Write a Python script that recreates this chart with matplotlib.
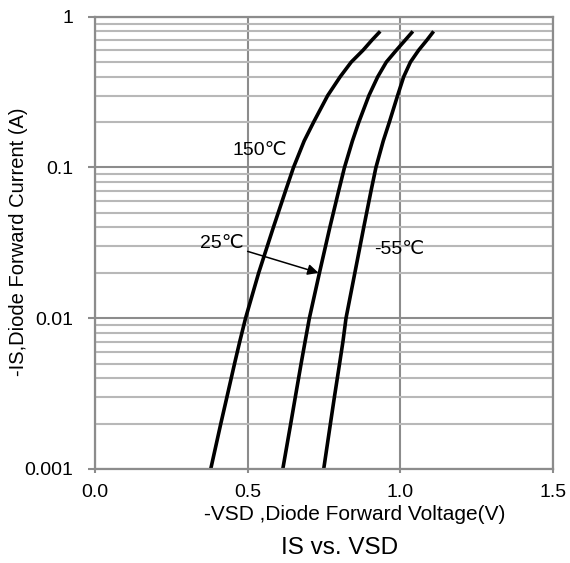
import matplotlib
matplotlib.use("Agg")
import matplotlib.pyplot as plt
from matplotlib.ticker import FixedLocator, NullFormatter

plt.rcParams['font.family'] = ['Liberation Sans', 'DejaVu Sans']

# forward current (A), read at the gridlines
current = [0.001, 0.002, 0.003, 0.005, 0.007, 0.01, 0.02, 0.04, 0.07,
           0.1, 0.15, 0.2, 0.3, 0.4, 0.5, 0.6, 0.7, 0.8]
# forward voltage (V) for each temperature
vsd_150 = [0.379, 0.412, 0.432, 0.457, 0.474, 0.493, 0.536, 0.584, 0.624,
           0.650, 0.685, 0.716, 0.762, 0.803, 0.839, 0.878, 0.907, 0.934]
vsd_25 = [0.615, 0.641, 0.656, 0.675, 0.688, 0.702, 0.735, 0.769, 0.798,
          0.817, 0.843, 0.864, 0.897, 0.926, 0.954, 0.987, 1.016, 1.041]
vsd_m55 = [0.749, 0.771, 0.784, 0.801, 0.812, 0.822, 0.851, 0.880, 0.904,
           0.920, 0.944, 0.964, 0.991, 1.011, 1.033, 1.060, 1.087, 1.109]

x_ticks = [0.0, 0.5, 1.0, 1.5]
x_labels = ["0.0", "0.5", "1.0", "1.5"]
y_ticks = [0.001, 0.01, 0.1, 1]
y_labels = ["0.001", "0.01", "0.1", "1"]

GRID_DARK = "#8c8c8c"
GRID_LIGHT = "#b8b8b8"

fig = plt.figure(figsize=(5.7, 5.63), dpi=100)
ax = fig.add_axes([0.1667, 0.1670, 0.8035, 0.8033])

ax.set_yscale("log")
ax.set_xlim(0, 1.5)
ax.set_ylim(0.001, 1)

# grid
minor = [m * 10.0 ** e for e in (-3, -2, -1) for m in range(2, 10)]
ax.yaxis.set_minor_locator(FixedLocator(minor))
ax.yaxis.set_minor_formatter(NullFormatter())
ax.grid(which="minor", axis="y", color=GRID_LIGHT, lw=1.5)
ax.grid(which="major", axis="y", color=GRID_DARK, lw=1.5)
ax.grid(which="major", axis="x", color=GRID_DARK, lw=1.5)
ax.set_axisbelow(True)

for s in ax.spines.values():
    s.set_color(GRID_DARK)
    s.set_linewidth(1.6)

ax.set_xticks(x_ticks)
ax.set_xticklabels(x_labels)
ax.set_yticks(y_ticks)
ax.set_yticklabels(y_labels)
ax.tick_params(axis="both", which="major", colors=GRID_DARK, width=1.5, length=5,
               labelcolor="black", labelsize=14)
ax.tick_params(axis="y", which="minor", length=0)
ax.tick_params(axis="y", pad=10.5)
ax.tick_params(axis="x", length=3, pad=8)

for v in (vsd_150, vsd_25, vsd_m55):
    ax.plot(v, current, color="black", lw=2.6, solid_joinstyle="round",
            solid_capstyle="butt")

ax.text(0.539, 0.130, "150℃", fontsize=14, ha="center", va="center")
ax.text(0.997, 0.0284, "-55℃", fontsize=14, ha="center", va="center")
ax.annotate("25℃", xy=(0.732, 0.0200), xytext=(0.415, 0.0313),
            fontsize=14, ha="center", va="center",
            arrowprops=dict(arrowstyle="-|>", color="black", lw=1.1,
                            mutation_scale=16, shrinkA=1, shrinkB=0))

fig.text(18.5 / 570, 1 - 242 / 563, "-IS,Diode Forward Current (A)", rotation=90,
         ha="center", va="center", fontsize=14.5)
fig.text(355 / 570, 1 - 515 / 563, "-VSD ,Diode Forward Voltage(V)",
         ha="center", va="center", fontsize=15)
fig.text(340 / 570, 1 - 548 / 563, "IS vs. VSD", ha="center", va="center", fontsize=17.5)

fig.savefig("out.png", dpi=100)
